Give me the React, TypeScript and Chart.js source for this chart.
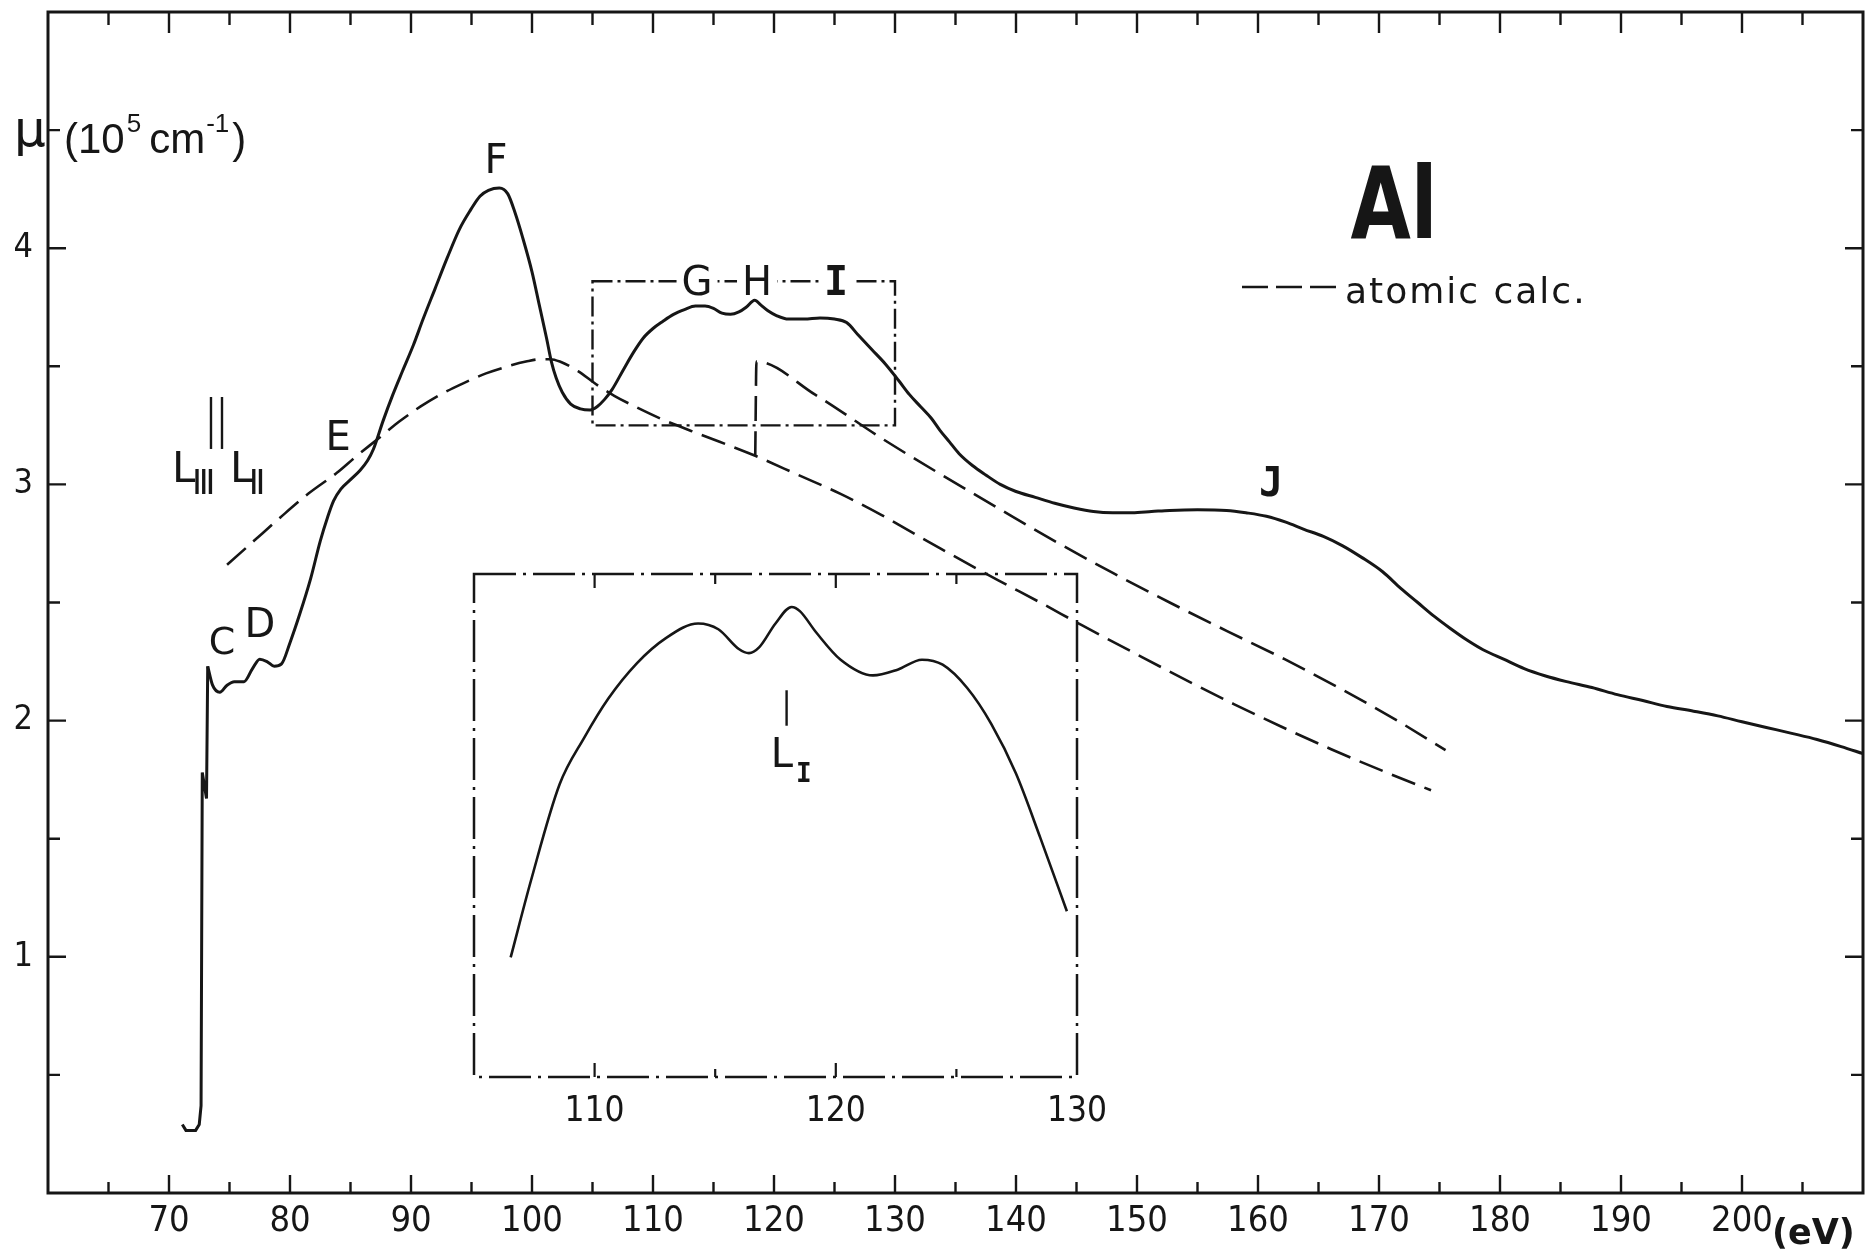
import React, { useEffect, useRef } from "react";
import { Chart, registerables } from "chart.js";

Chart.register(...registerables);

const INK = "#161616";
const SANS = "'DejaVu Sans', 'Liberation Sans', sans-serif";
const PLAIN = "'Liberation Sans', 'DejaVu Sans', sans-serif";
const NARROW = "'Liberation Sans Narrow', 'DejaVu Sans Condensed', 'Liberation Sans', sans-serif";
const MONO = "'DejaVu Sans Mono', monospace";

// ---- axes ----
const xTickLabels = [70, 80, 90, 100, 110, 120, 130, 140, 150, 160, 170, 180, 190, 200];
const yTickLabels = [1, 2, 3, 4];
const insetTickLabels = [110, 120, 130];
const insetTickMarks = [110, 115, 120, 125];

// ---- measured absorption: L-edge onset (straight segments) ----
const edgeEnergy = [71.1, 71.4, 72.2, 72.5, 72.65, 72.75, 73.1, 73.2];
const edgeMu = [0.29, 0.265, 0.265, 0.29, 0.37, 1.78, 1.67, 2.23];

// ---- measured absorption: smooth part ----
const mainEnergy = [
  73.2, 73.6, 74.2, 74.8, 75.4, 76.2, 76.9, 77.5, 78.1, 78.7, 79.3, 80.0, 80.8, 81.7, 82.5, 83.1,
  83.6, 84.2, 85.0, 85.8, 86.4, 86.9, 87.7, 88.5, 89.3, 90.2, 91.0, 92.0, 93.0, 94.0, 94.9, 95.7,
  96.4, 97.3, 98.0, 98.6, 99.2, 100.0, 100.6, 101.2, 101.6, 102.0, 102.5, 103.2, 104.0, 104.8,
  105.4, 106.0, 106.6, 107.6, 108.4, 109.2, 110.0, 110.8, 111.7, 112.6, 113.5, 114.3, 115.0,
  115.7, 116.4, 117.1, 117.7, 118.4, 118.9, 119.5, 120.2, 121.2, 122.5, 123.8, 125.0, 126.0,
  127.0, 128.1, 129.2, 130.3, 131.2, 132.1, 133.0, 133.7, 134.5, 135.3, 136.4, 137.5, 138.7,
  140.0, 141.6, 143.2, 144.8, 146.4, 148.0, 149.6, 151.2, 152.7, 155.0, 157.4, 159.0, 160.7,
  162.3, 163.8, 165.4, 167.0, 168.6, 170.3, 171.8, 173.2, 174.6, 175.9, 177.3, 178.6, 180.3,
  182.0, 183.7, 185.5, 187.6, 189.7, 191.8, 193.8, 196.0, 198.0, 200.0, 202.1, 204.2, 206.2,
  208.2, 210.0,
];
const mainMu = [
  2.23, 2.15, 2.12, 2.15, 2.165, 2.165, 2.22, 2.26, 2.25, 2.23, 2.24, 2.33, 2.45, 2.6, 2.76, 2.86,
  2.93, 2.98, 3.02, 3.06, 3.1, 3.15, 3.27, 3.38, 3.48, 3.59, 3.7, 3.83, 3.96, 4.08, 4.16, 4.22,
  4.245, 4.255, 4.23, 4.15, 4.05, 3.9, 3.76, 3.62, 3.52, 3.45, 3.39, 3.34, 3.32, 3.315,
  3.33, 3.36, 3.4, 3.49, 3.56, 3.62, 3.66, 3.69, 3.72, 3.74, 3.755, 3.755, 3.745,
  3.725, 3.72, 3.73, 3.75, 3.78, 3.76, 3.735, 3.715, 3.7, 3.7, 3.705, 3.7, 3.685,
  3.63, 3.57, 3.51, 3.44, 3.38, 3.33, 3.28, 3.23, 3.18, 3.13, 3.08, 3.04, 3.0,
  2.97, 2.945, 2.92, 2.9, 2.885, 2.88, 2.88, 2.885, 2.89, 2.893, 2.89, 2.88, 2.865,
  2.84, 2.81, 2.78, 2.74, 2.69, 2.63, 2.56, 2.5, 2.44, 2.39, 2.34, 2.3, 2.26,
  2.22, 2.19, 2.165, 2.14, 2.11, 2.085, 2.06, 2.04, 2.02, 1.995, 1.97, 1.945, 1.92,
  1.89, 1.86,
];

// ---- atomic calculation (without L_I) ----
const atomicEnergy = [
  74.8, 77, 79.2, 81.5, 83.9, 85.5, 87.2, 89, 90.8, 92.6, 94.4, 96.2, 98.0, 99.5, 100.7, 101.5,
  102.3, 103.8, 105.4, 106.8, 108.5, 111, 114, 118.5, 122, 125.5, 128.9, 133.7, 138.5, 142,
  145.4, 150, 154.3, 158, 161.9, 166, 170.4, 174.3,
];
const atomicMu = [
  2.66, 2.76, 2.86, 2.96, 3.05, 3.12, 3.19, 3.265, 3.33, 3.385, 3.43, 3.47, 3.5, 3.52, 3.53, 3.53,
  3.52, 3.48, 3.42, 3.375, 3.33, 3.27, 3.21, 3.12, 3.04, 2.96, 2.87, 2.73, 2.595, 2.5,
  2.405, 2.28, 2.165, 2.07, 1.975, 1.88, 1.785, 1.705,
];

// ---- atomic calculation including the L_I edge ----
const atomicLIEnergy = [118.45, 118.55, 123.4, 128.9, 133.7, 138.5, 143.2, 148.0, 152.7, 157.4, 162.2, 167.0, 171.5, 175.5];
const atomicLIMu = [3.12, 3.52, 3.38, 3.195, 3.045, 2.9, 2.76, 2.625, 2.5, 2.38, 2.26, 2.13, 2.0, 1.875];

// ---- L_III / L_II edge marker lines ----
const edgeMarkerEnergy = [73.47, 74.38];
const edgeMarkerMu = [3.15, 3.37];

// ---- enlarged region (box) ----
const zoomBoxEnergy = [105, 130];
const zoomBoxMu = [3.25, 3.86];

// ---- inset: enlarged spectrum ----
const insetEnergy = [
  106.52, 107.36, 108.55, 109.56, 110.57, 111.76, 112.94, 114.29, 115.13, 115.98, 116.4, 116.82,
  117.5, 118.17, 118.51, 119.19, 120.2, 121.54, 122.56, 123.57, 124.43, 125.44, 126.45, 127.47,
  128.48, 129.58,
];
const insetMu = [
  3.395, 3.488, 3.605, 3.661, 3.709, 3.752, 3.782, 3.8, 3.793, 3.769, 3.764, 3.771,
  3.8, 3.82, 3.815, 3.789, 3.756, 3.737, 3.744, 3.756, 3.75, 3.722, 3.678, 3.618,
  3.54, 3.451,
];
const insetLIMarkerEnergy = 117.96;
const insetLIMarkerMu = [3.676, 3.719];

function pts(xs: number[], ys: number[]) {
  return xs.map((x, i) => ({ x, y: ys[i] }));
}

function txt(ctx: CanvasRenderingContext2D, s: string, x: number, y: number, font: string, align: CanvasTextAlign = "center", spacing = "0px") {
  ctx.font = font;
  ctx.textAlign = align;
  ctx.textBaseline = "alphabetic";
  (ctx as any).letterSpacing = spacing;
  ctx.fillText(s, x, y);
  (ctx as any).letterSpacing = "0px";
}

const mainDecor = {
  id: "mainDecor",
  afterDraw(chart: any) {
    const { ctx, chartArea: a } = chart;
    const X = (v: number) => chart.scales.x.getPixelForValue(v);
    const Y = (v: number) => chart.scales.y.getPixelForValue(v);
    ctx.save();
    ctx.strokeStyle = INK;
    ctx.fillStyle = INK;
    ctx.lineCap = "butt";

    // frame
    ctx.setLineDash([]);
    ctx.lineWidth = 3;
    ctx.strokeRect(a.left, a.top, a.right - a.left, a.bottom - a.top);

    // inward ticks
    ctx.lineWidth = 2.4;
    ctx.beginPath();
    for (let e = 65; e <= 205; e += 5) {
      const px = X(e);
      const major = e % 10 === 0;
      ctx.moveTo(px, a.bottom);
      ctx.lineTo(px, a.bottom - (major ? 18 : 11));
      ctx.moveTo(px, a.top);
      ctx.lineTo(px, a.top + (major ? 21 : 13));
    }
    for (let m = 0.5; m <= 4.51; m += 0.5) {
      const py = Y(m);
      const major = Math.abs(m - Math.round(m)) < 1e-6;
      ctx.moveTo(a.left, py);
      ctx.lineTo(a.left + (major ? 18 : 12), py);
      ctx.moveTo(a.right, py);
      ctx.lineTo(a.right - (major ? 18 : 12), py);
    }
    ctx.stroke();

    // enlarged-region box (dash-dot)
    ctx.lineWidth = 2.4;
    ctx.setLineDash([20, 5, 3, 5]);
    const bx0 = X(zoomBoxEnergy[0]), bx1 = X(zoomBoxEnergy[1]);
    const by0 = Y(zoomBoxMu[1]), by1 = Y(zoomBoxMu[0]);
    ctx.strokeRect(bx0, by0, bx1 - bx0, by1 - by0);
    ctx.setLineDash([]);

    // G H I on the box edge
    const onEdge = (s: string, e: number, font: string) => {
      ctx.font = font;
      const w = ctx.measureText(s).width;
      ctx.fillStyle = "#ffffff";
      ctx.fillRect(X(e) - w / 2 - 5, by0 - 18, w + 10, 34);
      ctx.fillStyle = INK;
      txt(ctx, s, X(e), by0 + 14, font);
    };
    onEdge("G", 113.64, `40px ${SANS}`);
    onEdge("H", 118.6, `40px ${SANS}`);
    onEdge("I", 125.12, `bold 40px ${MONO}`);

    // peak labels
    txt(ctx, "F", X(97.02), Y(4.32), `40px ${SANS}`);
    txt(ctx, "E", X(83.97), Y(3.147), `40px ${SANS}`);
    txt(ctx, "C", X(74.38), Y(2.28), `38px ${SANS}`);
    txt(ctx, "D", X(77.52), Y(2.356), `40px ${SANS}`);
    txt(ctx, "J", X(161.07), Y(2.952), `bold 40px ${MONO}`);

    // L_III, L_II
    txt(ctx, "L", X(70.25), Y(3.01), `42px ${SANS}`, "left");
    txt(ctx, "Ⅲ", X(71.9), Y(2.96), `34px ${SANS}`, "left");
    txt(ctx, "L", X(75.04), Y(3.01), `42px ${SANS}`, "left");
    txt(ctx, "Ⅱ", X(76.6), Y(2.96), `34px ${SANS}`, "left");

    // y title
    txt(ctx, "μ", 14, 146, `50px ${SANS}`, "left");
    let cx = 64;
    const base = 153;
    txt(ctx, "(10", cx, base, `42px ${PLAIN}`, "left");
    ctx.font = `42px ${PLAIN}`;
    cx += ctx.measureText("(10").width + 2;
    txt(ctx, "5", cx, base - 21, `26px ${PLAIN}`, "left");
    ctx.font = `26px ${PLAIN}`;
    cx += ctx.measureText("5").width + 8;
    txt(ctx, "cm", cx, base, `42px ${PLAIN}`, "left");
    ctx.font = `42px ${PLAIN}`;
    cx += ctx.measureText("cm").width + 1;
    txt(ctx, "-1", cx, base - 21, `26px ${PLAIN}`, "left");
    ctx.font = `26px ${PLAIN}`;
    cx += ctx.measureText("-1").width + 3;
    txt(ctx, ")", cx, base, `42px ${PLAIN}`, "left");

    // x unit
    txt(ctx, "(eV)", 1772, 1244, `bold 35px ${SANS}`, "left");

    // Al
    ctx.save();
    ctx.translate(1394, 238);
    ctx.scale(0.78, 1);
    txt(ctx, "Al", 0, 0, `bold 100px ${SANS}`);
    ctx.restore();

    // legend
    ctx.lineWidth = 2.6;
    ctx.setLineDash([26, 8]);
    ctx.beginPath();
    ctx.moveTo(1242, 287);
    ctx.lineTo(1340, 287);
    ctx.stroke();
    ctx.setLineDash([]);
    txt(ctx, "atomic calc.", 1345, 303, `36px ${SANS}`, "left", "2px");

    ctx.restore();
  },
};

const insetDecor = {
  id: "insetDecor",
  afterDraw(chart: any) {
    const { ctx, chartArea: a } = chart;
    const X = (v: number) => chart.scales.x.getPixelForValue(v);
    const Y = (v: number) => chart.scales.y.getPixelForValue(v);
    ctx.save();
    ctx.strokeStyle = INK;
    ctx.fillStyle = INK;
    ctx.lineWidth = 2.5;
    ctx.setLineDash([42, 7, 3, 7]);
    ctx.strokeRect(a.left, a.top, a.right - a.left, a.bottom - a.top);
    ctx.setLineDash([]);
    ctx.lineWidth = 2.2;
    ctx.beginPath();
    insetTickMarks.forEach((e) => {
      const major = e % 10 === 0;
      ctx.moveTo(X(e), a.bottom);
      ctx.lineTo(X(e), a.bottom - (major ? 14 : 8));
      ctx.moveTo(X(e), a.top);
      ctx.lineTo(X(e), a.top + (major ? 14 : 10));
    });
    ctx.stroke();
    insetTickLabels.forEach((e) => {
      txt(ctx, String(e), X(e), a.bottom + 44, `35px ${NARROW}`);
    });
    // L_I label
    txt(ctx, "L", X(117.3), Y(3.626), `40px ${SANS}`, "left");
    txt(ctx, "I", X(118.35), Y(3.608), `bold 26px ${MONO}`, "left");
    ctx.restore();
  },
};

export default function App() {
  const mainRef = useRef<HTMLCanvasElement | null>(null);
  const insetRef = useRef<HTMLCanvasElement | null>(null);

  useEffect(() => {
    if (!mainRef.current || !insetRef.current) return;
    const solid = { borderColor: INK, borderWidth: 3, pointRadius: 0, fill: false };
    const dashed = { borderColor: INK, borderWidth: 2.6, pointRadius: 0, fill: false, borderDash: [25, 10] };

    const main = new Chart(mainRef.current, {
      type: "line",
      data: {
        datasets: [
          { ...solid, data: pts(edgeEnergy, edgeMu), tension: 0 },
          { ...solid, data: pts(mainEnergy, mainMu), cubicInterpolationMode: "monotone" },
          { ...dashed, data: pts(atomicEnergy, atomicMu), cubicInterpolationMode: "monotone" },
          { ...dashed, data: pts(atomicLIEnergy, atomicLIMu), cubicInterpolationMode: "monotone" },
          ...edgeMarkerEnergy.map((e) => ({
            ...solid,
            borderWidth: 2.4,
            tension: 0,
            data: edgeMarkerMu.map((m) => ({ x: e, y: m })),
          })),
        ] as any,
      },
      options: {
        responsive: false,
        animation: false,
        devicePixelRatio: 1,
        layout: { padding: { top: 12, right: 3, left: 0, bottom: 0 } },
        plugins: { legend: { display: false }, tooltip: { enabled: false }, title: { display: false } },
        scales: {
          x: {
            type: "linear",
            min: 60,
            max: 210,
            grid: { display: false, drawTicks: false },
            border: { display: false },
            ticks: {
              stepSize: 10,
              autoSkip: false,
              maxRotation: 0,
              minRotation: 0,
              padding: 7,
              color: INK,
              font: { family: NARROW, size: 36 },
              callback: (v: any) => (xTickLabels.includes(Number(v)) ? String(v) : ""),
            },
            afterFit: (s: any) => {
              s.height = 63;
              s.paddingLeft = 0;
              s.paddingRight = 0;
            },
          },
          y: {
            type: "linear",
            min: 0,
            max: 5,
            grid: { display: false, drawTicks: false },
            border: { display: false },
            ticks: {
              stepSize: 1,
              padding: 15,
              color: INK,
              font: { family: NARROW, size: 34 },
              callback: (v: any) => (yTickLabels.includes(Number(v)) ? String(v) : ""),
            },
            afterFit: (s: any) => {
              s.width = 48;
              s.paddingTop = 0;
              s.paddingBottom = 0;
            },
          },
        },
      } as any,
      plugins: [mainDecor],
    });

    const inset = new Chart(insetRef.current, {
      type: "line",
      data: {
        datasets: [
          { ...solid, borderWidth: 2.6, data: pts(insetEnergy, insetMu), cubicInterpolationMode: "monotone" },
          {
            ...solid,
            borderWidth: 2.4,
            tension: 0,
            data: insetLIMarkerMu.map((m) => ({ x: insetLIMarkerEnergy, y: m })),
          },
        ] as any,
      },
      options: {
        responsive: false,
        animation: false,
        devicePixelRatio: 1,
        layout: { padding: { left: 40, top: 10, right: 40, bottom: 60 } },
        plugins: { legend: { display: false }, tooltip: { enabled: false } },
        scales: {
          x: { type: "linear", min: zoomBoxEnergy[0], max: zoomBoxEnergy[1], display: false },
          y: { type: "linear", min: zoomBoxMu[0], max: zoomBoxMu[1], display: false },
        },
      } as any,
      plugins: [insetDecor],
    });

    return () => {
      main.destroy();
      inset.destroy();
    };
  }, []);

  return (
    <div style={{ position: "absolute", left: 0, top: 0, width: 1866, height: 1256, background: "#ffffff", overflow: "hidden" }}>
      <canvas ref={mainRef} width={1866} height={1256} style={{ position: "absolute", left: 0, top: 0 }} />
      <canvas ref={insetRef} width={683} height={573} style={{ position: "absolute", left: 434, top: 564 }} />
    </div>
  );
}
